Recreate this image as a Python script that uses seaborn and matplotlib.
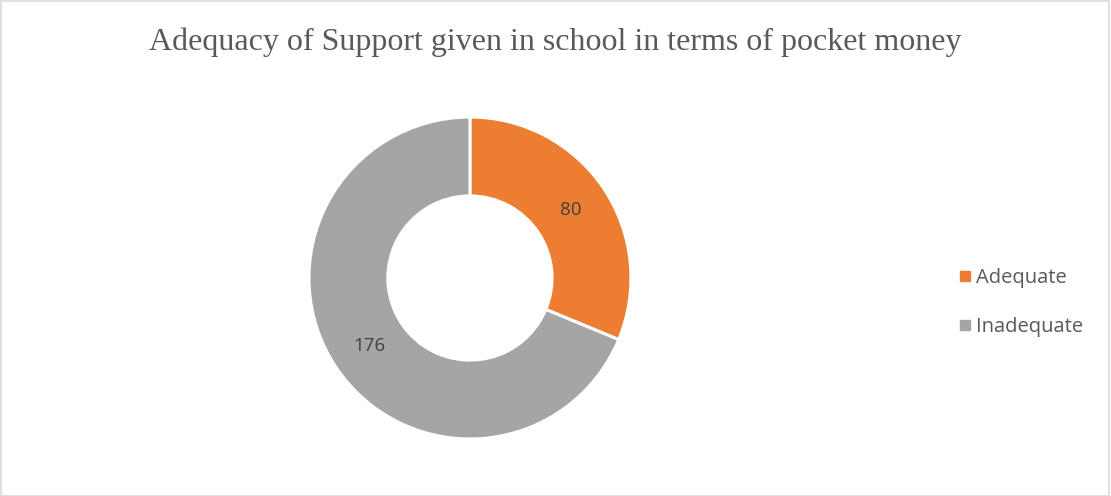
import matplotlib
matplotlib.use("Agg")
import matplotlib.pyplot as plt
import seaborn as sns
from matplotlib.lines import Line2D
from matplotlib.patches import Rectangle

sns.set_theme(style="white")

categories = ["Adequate", "Inadequate"]
counts = [80, 176]
colors = sns.color_palette(["#ED7D31", "#A5A5A5"])
title = "Adequacy of Support given in school in terms of pocket money"

fig = plt.figure(figsize=(11.11, 4.96), dpi=100)
fig.patch.set_facecolor("white")

# light frame around the chart area
fig.add_artist(Rectangle((0.0005, 0.001), 0.998, 0.997, transform=fig.transFigure,
                         fill=False, edgecolor="#D9D9D9", linewidth=1.2))

ax = fig.add_axes([0.2781, 0.1149, 0.2898, 0.6492])
wedges, texts, autotexts = ax.pie(
    counts,
    colors=colors,
    startangle=90,
    counterclock=False,
    radius=1.0,
    wedgeprops=dict(width=0.49, edgecolor="white", linewidth=2.2),
    autopct=lambda p: f"{round(p * sum(counts) / 100):d}",
    pctdistance=0.755,
    textprops=dict(color="#404040", fontsize=13.5, family="Open Sans"),
)
ax.set_xlim(-1, 1)
ax.set_ylim(-1, 1)
ax.set_aspect("equal")
ax.axis("off")

fig.text(0.5, 0.915, title, ha="center", va="center", fontsize=23,
         family="Liberation Serif", color="#595959")

handles = [Line2D([0], [0], marker="s", linestyle="none", markersize=7,
                  markerfacecolor=c, markeredgecolor=c) for c in colors]
fig.legend(handles, categories, loc="center left", bbox_to_anchor=(0.845, 0.39),
           frameon=False, handletextpad=0.15, labelspacing=1.45,
           prop=dict(family="Open Sans", size=14.5), labelcolor="#595959",
           handlelength=0.8)

fig.savefig("out.png", dpi=100, facecolor="white")
